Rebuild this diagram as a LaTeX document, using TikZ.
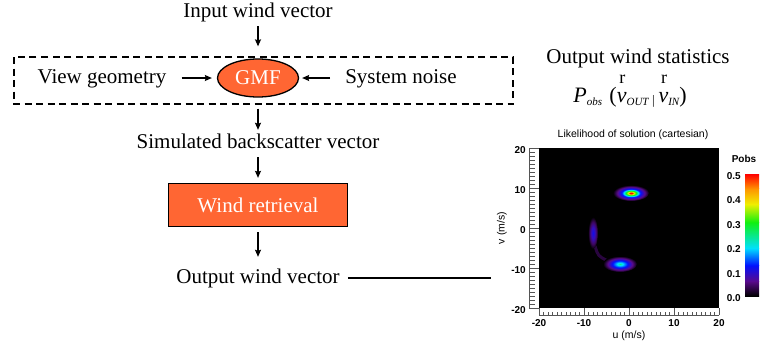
\documentclass[tikz,border=0pt]{standalone}
\usepackage{fontspec}
\setmainfont{Liberation Serif}
\newfontfamily\plotfont{Liberation Sans}
\usetikzlibrary{arrows.meta, shapes.geometric}
\definecolor{wrorange}{HTML}{FF6633}
\definecolor{wrviolet}{HTML}{5A0A8C}
\definecolor{wrblue}{HTML}{0010FF}
\definecolor{wrcyan}{HTML}{00E0FF}
\definecolor{wrgreen}{HTML}{10F010}
\definecolor{wryellow}{HTML}{F0F000}
\definecolor{wrorng}{HTML}{FF9000}
\definecolor{wrred}{HTML}{FF0000}
\definecolor{wrtick}{HTML}{555555}
\pgfdeclareradialshading{blobhot}{\pgfpoint{0bp}{0bp}}{color(0bp)=(wrred); color(2bp)=(wrred); color(4bp)=(wryellow); color(7bp)=(wrgreen); color(10bp)=(wrcyan); color(13bp)=(wrblue); color(19bp)=(wrviolet); color(25bp)=(black); color(50bp)=(black)}
\pgfdeclareradialshading{blobcool}{\pgfpoint{0bp}{0bp}}{color(0bp)=(wrgreen!50!wrcyan); color(4bp)=(wrcyan); color(11bp)=(wrblue); color(18bp)=(wrviolet); color(25bp)=(black); color(50bp)=(black)}
\pgfdeclareradialshading{blobarc}{\pgfpoint{0bp}{0bp}}{color(0bp)=(wrblue!80!wrviolet); color(9bp)=(wrblue!40!wrviolet); color(17bp)=(wrviolet!70!black); color(25bp)=(black); color(50bp)=(black)}
\newcommand{\rvec}{\makebox[0pt][l]{\hspace{2.5pt}\raisebox{19pt}{\fontsize{18}{18}\selectfont r}}\textit{v}}
\newcommand{\sbx}[1]{\raisebox{-3pt}{\fontsize{11}{11}\selectfont\itshape #1}}
\tikzset{
  lbl/.style={inner sep=0pt, text height=15pt, text depth=5pt},
  flow/.style={-{Stealth[length=7pt, width=6pt, inset=1pt]}, line width=1.2pt},
  blk/.style={fill=wrorange, draw=black, line width=1.3pt, text=white},
  ticklbl/.style={font=\plotfont\bfseries\fontsize{10}{12}\selectfont, inner sep=0pt},
  axlbl/.style={font=\plotfont\fontsize{10.5}{12}\selectfont, inner sep=0pt},
}
\begin{document}
\begin{tikzpicture}[x=1pt, y=-1pt, font=\fontsize{21}{25}\selectfont]
  \useasboundingbox (0,0) rectangle (763,349);
  % flow chart
  \node[lbl] (in) at (258,12) {Input wind vector};
  \draw[line width=1.2pt, dash pattern=on 7pt off 4.5pt] (14,57) rectangle (513,104);
  \node[blk, ellipse, minimum width=81pt, minimum height=38pt, inner sep=0pt] (gmf) at (258,78) {GMF};
  \node[lbl] (vg) at (102,78) {View geometry};
  \node[lbl] (sn) at (401,78) {System noise};
  \node[lbl] (sim) at (258,143) {Simulated backscatter vector};
  \node[blk, minimum width=179pt, minimum height=43pt] (wr) at (258,205) {Wind retrieval};
  \node[lbl] (out) at (258,278) {Output wind vector};
  \coordinate (plotin) at (491,279);
  \draw[flow, shorten <=4pt, shorten >=12pt] (in) -- (gmf);
  \draw[flow, shorten <=15pt, shorten >=5pt] (vg) -- (gmf);
  \draw[flow, shorten <=15pt, shorten >=3pt] (sn) -- (gmf);
  \draw[flow, shorten <=11pt, shorten >=3pt] (gmf) -- (sim);
  \draw[flow, shorten <=4pt, shorten >=5pt] (sim) -- (wr);
  \draw[flow, shorten <=5pt, shorten >=11pt] (wr) -- (out);
  \draw[line width=1.2pt, shorten <=8pt] (out.east) -- (out.east -| plotin);
  % statistics
  \node[lbl] (stat) at (638,58) {Output wind statistics};
  \node[anchor=base, inner sep=0pt, font=\fontsize{22}{26}\selectfont] (pobs) at (630,102)
    {\textit{P}\sbx{obs}\,\,(\rvec\sbx{OUT}\,\raisebox{-2pt}{\fontsize{13}{13}\selectfont|}\,\rvec\sbx{IN})};
  % likelihood plot
  \node[axlbl] (ttl) at (633,135) {Likelihood of solution (cartesian)};
  \fill[black] (539,148) rectangle (719,308);
  \draw[wrviolet!45!black, line width=3pt, line cap=round] (595,246) .. controls (598,256) .. (608,261);
  \shade[shading=blobarc] (593,233) ellipse (5 and 16);
  \shade[shading=blobhot] (631,193) ellipse (18 and 8);
  \shade[shading=blobcool] (620,264) ellipse (17 and 8);
  % axes
  \draw[wrtick, line width=0.7pt] (529,148) -- (529,308);
  \draw[wrtick, line width=0.7pt] (539,315) -- (719,315);
  \foreach \v in {-20,...,20} {
    \draw[wrtick, line width=0.5pt] (529,{228-4*(\v)}) -- ++(6,0);
    \draw[wrtick, line width=0.5pt] ({629+4.5*(\v)},315) -- ++(0,-3.5);
  }
  \foreach \v in {-20,-10,...,20} {
    \draw[wrtick, line width=0.7pt] (529,{228-4*(\v)}) -- ++(10,0);
    \draw[wrtick, line width=0.7pt] ({629+4.5*(\v)},315) -- ++(0,-7);
    \node[ticklbl, anchor=east] at (526,{230-4*(\v)}) {\v};
    \node[ticklbl, anchor=north] at ({629+4.5*(\v)},319) {\v};
  }
  \node[axlbl] (ulbl) at (629,336) {u (m/s)};
  \node[axlbl, rotate=90] (vlbl) at (502,228) {v (m/s)};
  % colour bar
  \foreach \ya/\yb/\ca/\cb in {296/281/black/wrviolet, 281.5/265/wrviolet/wrblue, 265.5/248/wrblue/wrcyan,
      248.5/222/wrcyan/wrgreen, 222.5/204/wrgreen/wryellow, 204.5/188/wryellow/wrorng, 188.5/174/wrorng/wrred}
    \shade[bottom color=\ca, top color=\cb] (745,\ya) rectangle (759,\yb);
  \node[ticklbl] (pb) at (744,159) {Pobs};
  \foreach \p [count=\k from 0] in {0.0,0.1,0.2,0.3,0.4,0.5}
    \node[ticklbl, anchor=east] at (741,{298-24.4*\k}) {\p};
\end{tikzpicture}
\end{document}
